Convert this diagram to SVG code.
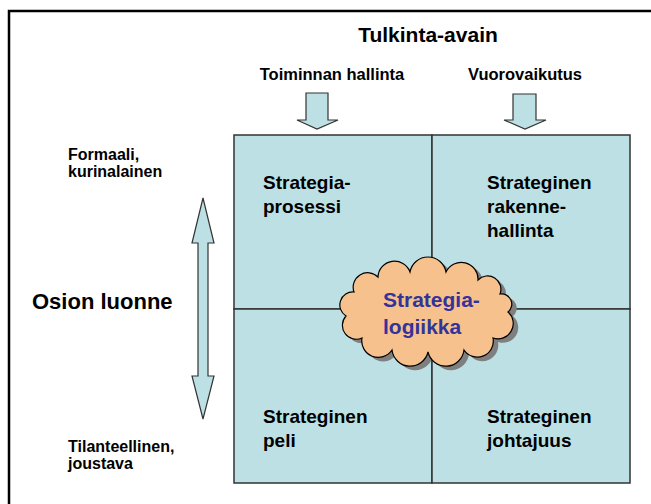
<svg xmlns="http://www.w3.org/2000/svg" width="651" height="504" viewBox="0 0 651 504">
  <style>
    text { font-family: "Liberation Sans", Arial, sans-serif; font-weight: bold; fill: #000; }
    .title { font-size: 21px; }
    .sub { font-size: 16.5px; }
    .side { font-size: 16px; }
    .big { font-size: 22px; }
    .quad { font-size: 19px; }
    .cloudtxt { font-size: 21px; fill: #333399; }
    .cell { fill: #bce0e3; stroke: #333; stroke-width: 1.5; }
    .arrow { fill: #bce0e3; stroke: #333; stroke-width: 1.2; stroke-linejoin: miter; }
  </style>
  <defs>
    <!-- puffy cloud outline: a ring of outward semicircular bumps -->
    <path id="cloudShape" d="M508,312 A15.3,15.3 0 0 1 493,338 A16,16 0 0 1 464,350 A18.3,18.3 0 0 1 428,352 A18.3,18.3 0 0 1 392,350 A16.5,16.5 0 0 1 362,338 A13.9,13.9 0 0 1 346,316 A13,13 0 0 1 354,292 A14.5,14.5 0 0 1 378,277 A16.5,16.5 0 0 1 410,272 A18.3,18.3 0 0 1 446,272 A16.8,16.8 0 0 1 478,280 A13.3,13.3 0 0 1 500,294 A10.2,10.2 0 0 1 508,312 Z"/>
  </defs>

  <rect x="9" y="11" width="700" height="600" fill="#fff" stroke="#000" stroke-width="2.5"/>

  <g id="header">
    <text class="title" x="428" y="42" text-anchor="middle">Tulkinta-avain</text>
    <text class="sub" x="332" y="80" text-anchor="middle">Toiminnan hallinta</text>
    <text class="sub" x="525" y="80" text-anchor="middle">Vuorovaikutus</text>
  </g>

  <g id="side-labels">
    <text class="side" x="68" y="160">Formaali,</text>
    <text class="side" x="68" y="177">kurinalainen</text>
    <text class="big" x="32" y="309">Osion luonne</text>
    <text class="side" x="68" y="452">Tilanteellinen,</text>
    <text class="side" x="68" y="469">joustava</text>
  </g>

  <g id="connectors">
    <path class="arrow" d="M306,93 H328 V120 H338 L317,129 L297,120 H306 Z"/>
    <path class="arrow" d="M513,94 H536 V120 H546 L525,129 L504,120 H513 Z"/>
    <path class="arrow" d="M203,198 L214,243 H208 V376 H214 L203,419 L192,376 H198 V243 H192 Z"/>
  </g>

  <g id="quadrant-tl">
    <rect class="cell" x="234" y="135" width="198" height="174"/>
    <text class="quad" x="263" y="189">Strategia-</text>
    <text class="quad" x="263" y="213">prosessi</text>
  </g>
  <g id="quadrant-tr">
    <rect class="cell" x="432" y="135" width="198" height="174"/>
    <text class="quad" x="487" y="189">Strateginen</text>
    <text class="quad" x="487" y="213">rakenne-</text>
    <text class="quad" x="487" y="237">hallinta</text>
  </g>
  <g id="quadrant-bl">
    <rect class="cell" x="234" y="309" width="198" height="174"/>
    <text class="quad" x="263" y="423">Strateginen</text>
    <text class="quad" x="263" y="447">peli</text>
  </g>
  <g id="quadrant-br">
    <rect class="cell" x="432" y="309" width="198" height="174"/>
    <text class="quad" x="487" y="423">Strateginen</text>
    <text class="quad" x="487" y="447">johtajuus</text>
  </g>

  <g id="cloud">
    <use href="#cloudShape" transform="translate(5,4)" fill="#7f7f7f"/>
    <use href="#cloudShape" fill="#f6c18c" stroke="#000" stroke-width="1.2"/>
    <text class="cloudtxt" x="383" y="307">Strategia-</text>
    <text class="cloudtxt" x="383" y="334">logiikka</text>
  </g>
</svg>
